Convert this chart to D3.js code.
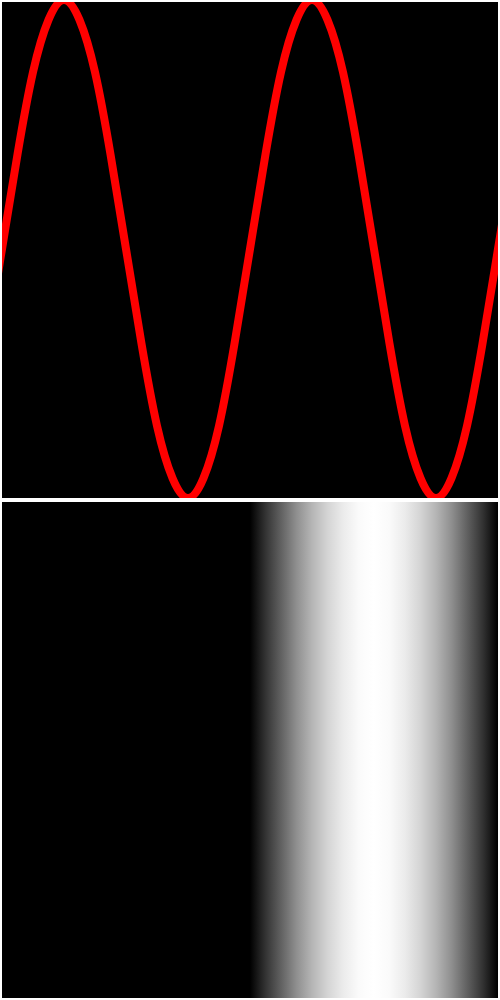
<!DOCTYPE html>
<html>
<head>
<meta charset="utf-8">
<script src="https://cdn.jsdelivr.net/npm/d3@7"></script>
<style>
  body { margin: 0; background: #fff; }
  svg { display: block; }
</style>
</head>
<body>
<div id="chart"></div>
<script>
// sample positions for the wave (16 per period, plus one beyond each edge)
const steps = d3.range(-1, 34);
// wave values
const waveValues = [
  -0.38,
  0, 0.38, 0.71, 0.92, 1, 0.92, 0.71, 0.38,
  0, -0.38, -0.71, -0.92, -1, -0.92, -0.71, -0.38,
  0, 0.38, 0.71, 0.92, 1, 0.92, 0.71, 0.38,
  0, -0.38, -0.71, -0.92, -1, -0.92, -0.71, -0.38,
  0,
  0.38
];
// positions for the bottom panel shading
const shadeSteps = d3.range(0, 33);
// brightness of the bottom panel (0 = black, 1 = white)
const shadeValues = [
  0, 0, 0, 0, 0, 0, 0, 0,
  0, 0, 0, 0, 0, 0, 0, 0,
  0, 0.2, 0.38, 0.56, 0.71, 0.83, 0.92, 0.98,
  1, 0.98, 0.92, 0.83, 0.71, 0.56, 0.38, 0.2,
  0
];

const width = 500, height = 1000;
const panel = { left: 2, size: 496, gap: 4 };

const svg = d3.select('#chart').append('svg')
  .attr('width', width)
  .attr('height', height);

const defs = svg.append('defs');

// top panel: the wave
const topY = 2;
defs.append('clipPath').attr('id', 'clip-top')
  .append('rect')
  .attr('x', panel.left).attr('y', topY)
  .attr('width', panel.size).attr('height', panel.size);

svg.append('rect')
  .attr('x', panel.left).attr('y', topY)
  .attr('width', panel.size).attr('height', panel.size)
  .attr('fill', '#000');

const x = d3.scaleLinear()
  .domain([0, 32])
  .range([panel.left, panel.left + panel.size]);

const y = d3.scaleLinear()
  .domain([-1, 1])
  .range([topY + panel.size, topY - 2]);

const line = d3.line()
  .x((d, i) => x(steps[i]))
  .y(d => y(d))
  .curve(d3.curveNatural);

svg.append('path')
  .datum(waveValues)
  .attr('clip-path', 'url(#clip-top)')
  .attr('d', line)
  .attr('fill', 'none')
  .attr('stroke', '#ff0000')
  .attr('stroke-width', 8);

// bottom panel: the shaded band
const bottomY = topY + panel.size + panel.gap;
const shade = d3.scaleLinear().domain([0, 1]).range(['#000000', '#ffffff']);
const offset = d3.scaleLinear().domain([0, 32]).range([0, 100]);

const grad = defs.append('linearGradient')
  .attr('id', 'shade-grad')
  .attr('x1', '0%').attr('x2', '100%')
  .attr('y1', '0%').attr('y2', '0%');

grad.selectAll('stop')
  .data(shadeValues)
  .enter()
  .append('stop')
  .attr('offset', (d, i) => offset(shadeSteps[i]) + '%')
  .attr('stop-color', d => shade(d));

svg.append('rect')
  .attr('x', panel.left).attr('y', bottomY)
  .attr('width', panel.size).attr('height', panel.size)
  .attr('fill', 'url(#shade-grad)');
</script>
</body>
</html>
